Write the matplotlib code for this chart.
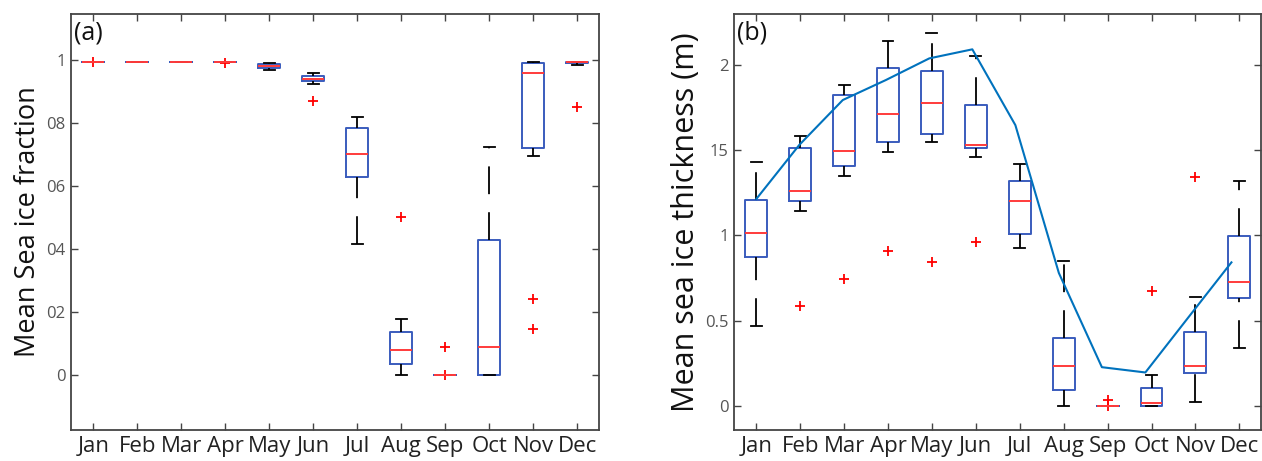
import matplotlib
matplotlib.use("Agg")
import matplotlib.pyplot as plt

months = ['Jan', 'Feb', 'Mar', 'Apr', 'May', 'Jun', 'Jul', 'Aug', 'Sep', 'Oct', 'Nov', 'Dec']

# Panel (a): mean sea ice fraction box statistics
a_med = [0.995, 0.995, 0.995, 0.995, 0.982, 0.942, 0.703, 0.080, 0.0, 0.089, 0.961, 0.995]
a_q1 = [0.995, 0.995, 0.995, 0.993, 0.976, 0.934, 0.629, 0.037, 0.0, 0.0, 0.722, 0.990]
a_q3 = [0.996, 0.995, 0.995, 0.995, 0.989, 0.949, 0.784, 0.1375, 0.0, 0.4295, 0.991, 0.996]
a_whislo = [0.995, 0.995, 0.995, 0.993, 0.970, 0.925, 0.417, 0.0, 0.0, 0.0, 0.695, 0.984]
a_whishi = [0.996, 0.995, 0.995, 0.996, 0.992, 0.961, 0.820, 0.178, 0.0, 0.724, 0.995, 0.996]
a_fliers = [[0.995], [], [], [0.99], [], [0.870], [], [0.5025], [0.09, 0.0], [], [0.242, 0.148], [0.853]]
a_yticks = [0, 0.2, 0.4, 0.6, 0.8, 1.0]
a_yticklabels = ['0', '02', '04', '06', '08', '1']

# Panel (b): mean sea ice thickness box statistics
b_med = [1.016, 1.259, 1.493, 1.713, 1.774, 1.530, 1.199, 0.236, 0.0, 0.018, 0.236, 0.727]
b_q1 = [0.873, 1.203, 1.407, 1.550, 1.595, 1.513, 1.010, 0.094, 0.0, 0.0, 0.195, 0.635]
b_q3 = [1.210, 1.510, 1.825, 1.979, 1.961, 1.764, 1.316, 0.400, 0.0, 0.105, 0.435, 0.998]
b_whislo = [0.468, 1.144, 1.347, 1.487, 1.546, 1.460, 0.924, 0.0, 0.0, 0.0, 0.023, 0.341]
b_whishi = [1.430, 1.583, 1.883, 2.138, 2.183, 2.050, 1.419, 0.850, 0.0, 0.180, 0.639, 1.316]
b_fliers = [[], [0.585], [0.747], [0.906], [0.846], [0.961], [], [], [0.033, 0.0], [0.673], [1.343], []]
b_yticks = [0, 0.5, 1.0, 1.5, 2.0]
b_yticklabels = ['0', '0.5', '1', '15', '2']

# Panel (b): blue reference line
line_x = [1.0, 1.98, 2.97, 3.95, 4.94, 5.92, 6.90, 7.89, 8.87, 9.86, 10.84, 11.82]
line_y = [1.213, 1.530, 1.793, 1.910, 2.037, 2.090, 1.646, 0.780, 0.228, 0.197, 0.520, 0.842]

plt.rcParams['font.family'] = ['Open Sans', 'DejaVu Sans']
plt.rcParams['lines.scale_dashes'] = False

W, H = 1262, 461
fig = plt.figure(figsize=(W / 100, H / 100), dpi=100)

BOX_BLUE = '#3a5cbd'
MED_RED = '#ff3b3b'
SPINE = '#444444'
TICKGRAY = '#555555'


def make_stats(med, q1, q3, lo, hi, fl):
    return [dict(med=m, q1=a, q3=b, whislo=l, whishi=h, fliers=f)
            for m, a, b, l, h, f in zip(med, q1, q3, lo, hi, fl)]


def draw_panel(ax, stats, yticks, yticklabels, ylim, ylabel, ylabel_size, tag):
    res = ax.bxp(stats, positions=range(1, 13), widths=0.5, capwidths=0.25,
                 showfliers=True,
                 boxprops=dict(color=BOX_BLUE, linewidth=1.4),
                 medianprops=dict(color=MED_RED, linewidth=1.4),
                 whiskerprops=dict(color='black', linewidth=1.3,
                                   linestyle=(0, (20, 13))),
                 capprops=dict(color='black', linewidth=1.3),
                 flierprops=dict(marker='+', markeredgecolor='red',
                                 markersize=7, markeredgewidth=1.3,
                                 linestyle='none'))
    # dash pattern runs upward from the lower end of each whisker
    for i, w in enumerate(res['whiskers']):
        if i % 2 == 0:
            xd, yd = w.get_data()
            w.set_data(list(xd)[::-1], list(yd)[::-1])
    for m in res['medians']:
        m.set_zorder(3)
    ax.set_xlim(0.5, 12.5)
    ax.set_ylim(*ylim)
    ax.set_xticks(range(1, 13))
    ax.set_xticklabels(months, fontsize=16, color='#222222')
    ax.set_yticks(yticks)
    ax.set_yticklabels(yticklabels, fontsize=12, color=TICKGRAY)
    ax.tick_params(axis='both', direction='in', length=5, width=1.0,
                   color=SPINE, top=True, right=True)
    ax.tick_params(axis='x', pad=4)
    ax.tick_params(axis='y', pad=4)
    for s in ax.spines.values():
        s.set_color(SPINE)
        s.set_linewidth(1.3)
    ax.set_ylabel(ylabel, fontsize=ylabel_size, color='#111111', labelpad=3)
    ax.text(0.006, 0.985, tag, transform=ax.transAxes, ha='left', va='top',
            fontsize=18, color='#111111')
    return res


ax1 = fig.add_axes([71.3 / W, (H - 430) / H, 528 / W, 416 / H])
draw_panel(ax1, make_stats(a_med, a_q1, a_q3, a_whislo, a_whishi, a_fliers),
           a_yticks, a_yticklabels, (-0.174, 1.147),
           'Mean Sea ice fraction', 19.5, '(a)')

ax2 = fig.add_axes([734.3 / W, (H - 430) / H, 527 / W, 416 / H])
draw_panel(ax2, make_stats(b_med, b_q1, b_q3, b_whislo, b_whishi, b_fliers),
           b_yticks, b_yticklabels, (-0.14, 2.297),
           'Mean sea ice thickness (m)', 22, '(b)')
ax2.plot(line_x, line_y, color='#0072BD', linewidth=1.5, zorder=4)

fig.savefig('out.png', dpi=100)
